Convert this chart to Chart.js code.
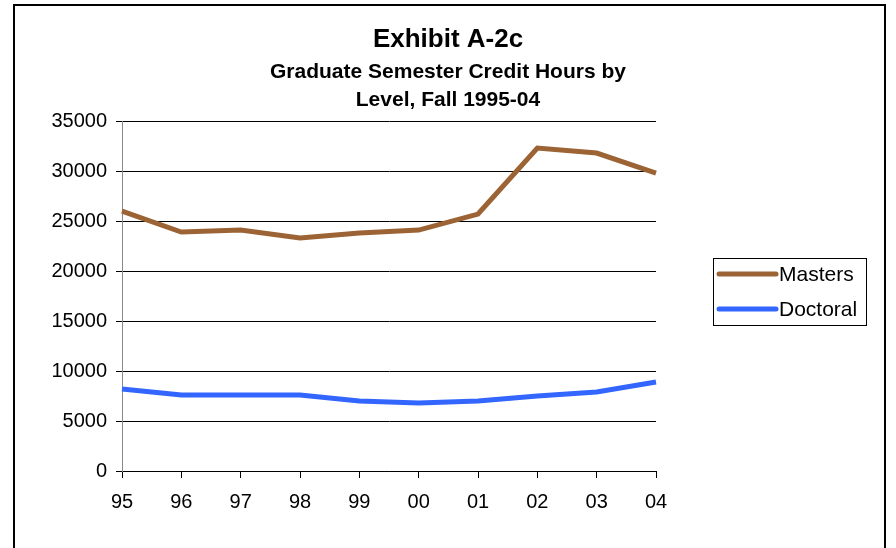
<!DOCTYPE html>
<html>
<head>
<meta charset="utf-8">
<script src="https://cdn.jsdelivr.net/npm/chart.js@4.4.1/dist/chart.umd.min.js"></script>
<style>
  html, body { margin: 0; padding: 0; background: #fff; overflow: hidden; }
  #wrap { position: relative; width: 896px; height: 548px; }
  #frame { position: absolute; left: 13px; top: 4px; width: 869px; height: 600px;
           border: 2px solid #000; pointer-events: none; }
</style>
</head>
<body>
<div id="wrap">
  <canvas id="creditChart" width="896" height="548"></canvas>
  <div id="frame"></div>
</div>
<script>
    const years = ['95', '96', '97', '98', '99', '00', '01', '02', '03', '04'];
    const masters = [26000, 23900, 24100, 23300, 23800, 24100, 25700, 32300, 31800, 29800];
    const doctoral = [8200, 7600, 7600, 7600, 7000, 6800, 7000, 7500, 7900, 8900];
    const yTicks = [0, 5000, 10000, 15000, 20000, 25000, 30000, 35000];

    const font = "'Liberation Sans', Arial, sans-serif";

    // boxed legend on the right, like the excel original
    const boxLegend = {
        id: 'boxLegend',
        afterDraw(chart) {
            const ctx = chart.ctx;
            const x = 713, y = 258, w = 153, h = 67;
            ctx.save();
            ctx.strokeStyle = '#000';
            ctx.lineWidth = 1;
            ctx.strokeRect(x + 0.5, y + 0.5, w, h);
            ctx.font = '21px ' + font;
            ctx.textBaseline = 'middle';
            ctx.fillStyle = '#000';
            chart.data.datasets.forEach((ds, i) => {
                const ly = y + 16 + i * 35;
                ctx.strokeStyle = ds.borderColor;
                ctx.lineWidth = 5;
                ctx.lineCap = 'round';
                ctx.beginPath();
                ctx.moveTo(x + 6, ly);
                ctx.lineTo(x + 63, ly);
                ctx.stroke();
                ctx.fillText(ds.label, x + 66, ly + 1);
            });
            ctx.restore();
        }
    };

    const ctx = document.getElementById("creditChart").getContext("2d");
    new Chart(ctx, {
        type: 'line',
        data: {
            labels: years,
            datasets: [{
                label: 'Masters',
                data: masters,
                borderColor: '#9c6434',
                borderWidth: 5,
                pointRadius: 0,
                tension: 0
            }, {
                label: 'Doctoral',
                data: doctoral,
                borderColor: '#3366ff',
                borderWidth: 5,
                pointRadius: 0,
                tension: 0
            }]
        },
        options: {
            responsive: false,
            animation: false,
            layout: { padding: 0 },
            plugins: {
                legend: { display: false },
                tooltip: { enabled: false },
                title: {
                    display: true,
                    text: 'Exhibit A-2c',
                    color: '#000',
                    font: { family: font, size: 26, weight: 'bold', lineHeight: 1.2 },
                    padding: { top: 24, bottom: 3 }
                },
                subtitle: {
                    display: true,
                    text: ['Graduate Semester Credit Hours by', 'Level, Fall 1995-04'],
                    color: '#000',
                    font: { family: font, size: 21, weight: 'bold', lineHeight: 1.33 },
                    padding: { top: 0, bottom: 7 }
                }
            },
            scales: {
                x: {
                    offset: false,
                    grid: { display: true, drawOnChartArea: false, color: '#000', tickLength: 7 },
                    border: { color: '#000' },
                    ticks: { color: '#000', font: { family: font, size: 20 }, padding: 12, maxRotation: 0 },
                    afterFit: s => { s.height = 77; }
                },
                y: {
                    min: 0,
                    max: 35000,
                    afterBuildTicks: s => { s.ticks = yTicks.map(v => ({ value: v })); },
                    grid: { color: '#000', tickLength: 6 },
                    border: { color: '#888' },
                    ticks: { color: '#000', font: { family: font, size: 20 }, padding: 9,
                             callback: v => String(v) },
                    afterFit: s => { s.width = 122; }
                },
                // empty right-hand axis that only reserves room for the legend
                spacer: {
                    type: 'linear',
                    position: 'right',
                    grid: { drawOnChartArea: false, drawTicks: false },
                    border: { display: false },
                    ticks: { display: false },
                    afterFit: s => { s.width = 240; }
                }
            }
        },
        plugins: [boxLegend]
    });
</script>
</body>
</html>
